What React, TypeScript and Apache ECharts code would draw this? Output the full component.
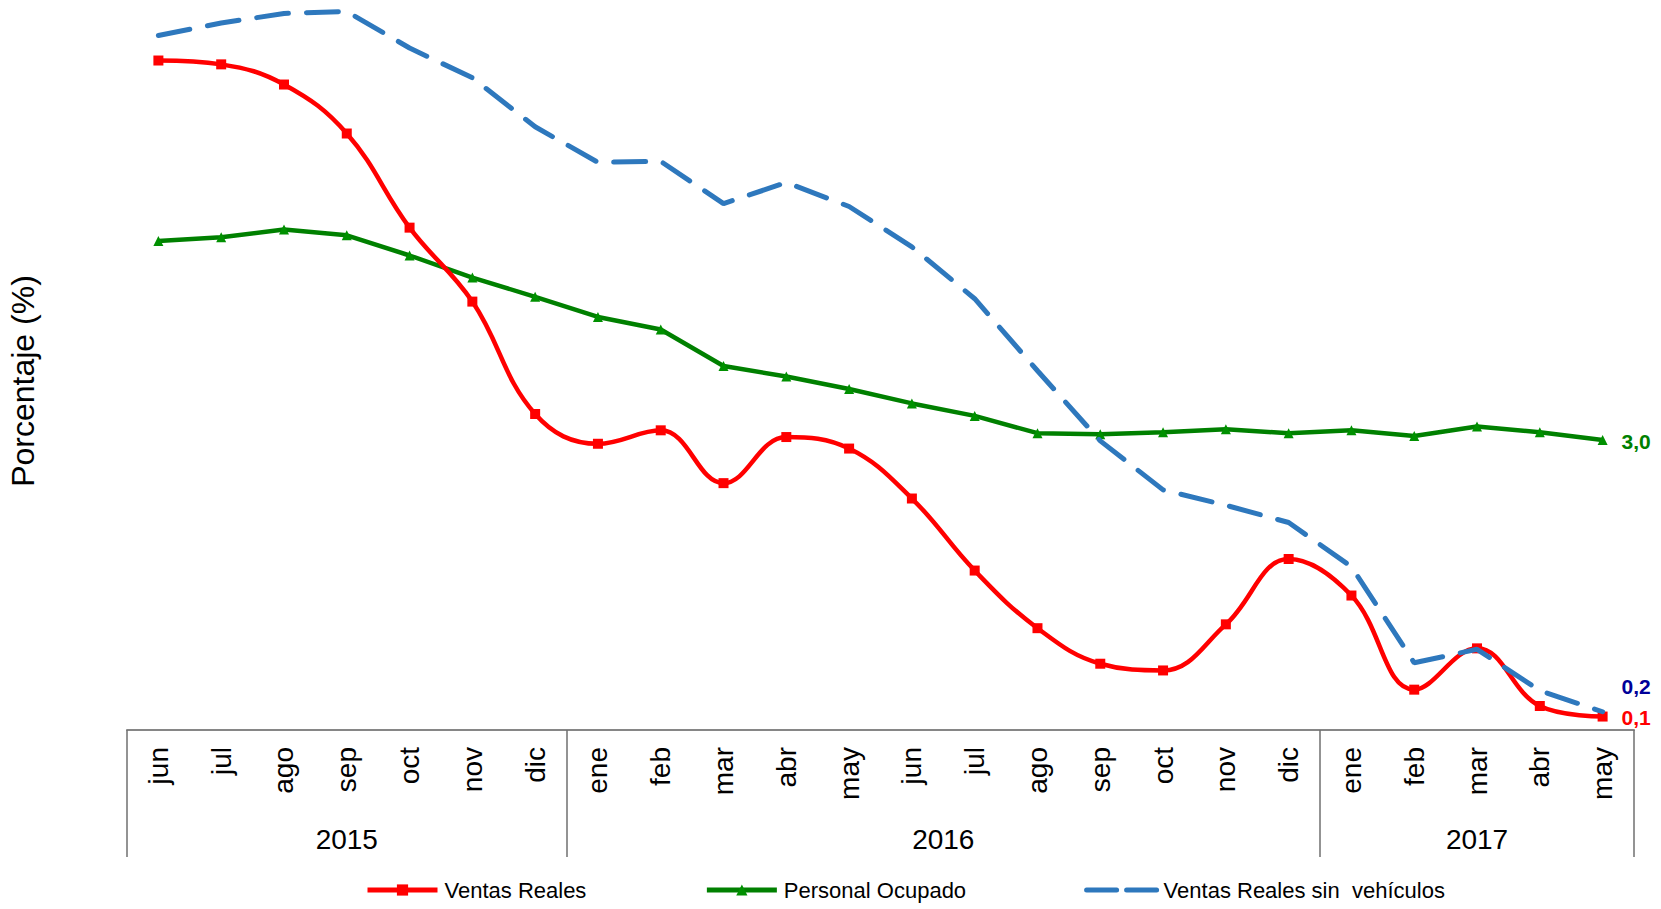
import React, { useEffect, useRef } from "react";
import * as echarts from "echarts";

const months = ["jun","jul","ago","sep","oct","nov","dic","ene","feb","mar","abr","may","jun","jul","ago","sep","oct","nov","dic","ene","feb","mar","abr","may"];
const years = ["2015", "2016", "2017"];
const yearMonthCounts = [7, 12, 5];

const ventasReales = [6.97,6.93,6.72,6.21,5.23,4.46,3.29,2.98,3.12,2.57,3.05,2.93,2.41,1.66,1.06,0.69,0.62,1.10,1.78,1.40,0.42,0.85,0.25,0.14];
const personalOcupado = [5.09,5.13,5.21,5.15,4.94,4.71,4.51,4.30,4.17,3.79,3.68,3.55,3.40,3.27,3.09,3.08,3.10,3.13,3.09,3.12,3.06,3.16,3.10,3.02];
const ventasSinVehiculos = [7.23,7.36,7.46,7.48,7.10,6.79,6.28,5.91,5.92,5.48,5.70,5.45,5.03,4.49,3.74,3.01,2.50,2.34,2.16,1.70,0.70,0.84,0.41,0.19];

const seriesNames = ["Ventas Reales", "Personal Ocupado", "Ventas Reales sin  vehículos"];

const FONT = "'Liberation Sans', Arial, sans-serif";

function fmt(v: number) {
  return v.toFixed(1).replace(".", ",");
}

function endLabel(color: string, offset: [number, number]) {
  return {
    show: true,
    distance: 19,
    offset,
    formatter: (p: any) => fmt(Array.isArray(p.value) ? p.value[1] : p.value),
    color,
    fontWeight: "bold",
    fontSize: 21,
    fontFamily: FONT,
  };
}

export default function App() {
  const ref = useRef<HTMLDivElement>(null);

  useEffect(() => {
    if (!ref.current) return;
    const chart = echarts.init(ref.current, undefined, { renderer: "svg" });

    const boundaries: number[] = [0];
    yearMonthCounts.forEach((c) => boundaries.push(boundaries[boundaries.length - 1] + c));
    const mids = yearMonthCounts.map((c, i) => boundaries[i] + c / 2);

    chart.setOption({
      animation: false,
      backgroundColor: "#ffffff",
      textStyle: { fontFamily: FONT },
      grid: { left: 127, right: 27, top: 0, bottom: 179, containLabel: false },
      legend: {
        left: 360,
        top: 874,
        itemWidth: 70,
        itemHeight: 14,
        itemGap: 118,
        lineStyle: { width: 5 },
        textStyle: { fontSize: 22, color: "#000", fontFamily: FONT, padding: [0, 0, 0, 2] },
        data: [
          seriesNames[0],
          seriesNames[1],
          { name: seriesNames[2], itemStyle: { opacity: 0 }, lineStyle: { type: [30, 10], width: 5 } },
        ],
      },
      xAxis: [
        {
          type: "category",
          data: months,
          boundaryGap: true,
          axisLine: { show: true, lineStyle: { color: "#868686", width: 2 } },
          axisTick: { show: false },
          axisLabel: {
            rotate: 90,
            fontSize: 28,
            color: "#000",
            margin: 17,
            interval: 0,
            fontFamily: FONT,
          },
          splitLine: { show: false },
        },
        {
          type: "value",
          position: "bottom",
          min: 0,
          max: months.length,
          axisLine: { show: false },
          splitLine: { show: false },
          axisTick: {
            show: true,
            customValues: boundaries,
            length: 127,
            inside: false,
            lineStyle: { color: "#6f6f6f", width: 1.5 },
          },
          axisLabel: {
            show: true,
            customValues: mids,
            formatter: (v: number) => {
              const idx = mids.indexOf(v);
              return idx >= 0 ? years[idx] : "";
            },
            fontSize: 28,
            color: "#000",
            margin: 95,
            fontFamily: FONT,
          },
        },
      ],
      yAxis: {
        type: "value",
        min: 0,
        max: 7.6,
        show: false,
        splitLine: { show: false },
      },
      graphic: [
        {
          type: "text",
          x: 23,
          y: 381,
          rotation: Math.PI / 2,
          style: {
            text: "Porcentaje (%)",
            fontSize: 32,
            fontFamily: FONT,
            fill: "#000",
            textAlign: "center",
            textVerticalAlign: "middle",
          },
        },
      ],
      series: [
        {
          name: seriesNames[0],
          type: "line",
          xAxisIndex: 0,
          data: ventasReales,
          smooth: 0.4,
          symbol: "rect",
          symbolSize: 10,
          showAllSymbol: true,
          itemStyle: { color: "#FF0000" },
          lineStyle: { color: "#FF0000", width: 4.5 },
          endLabel: endLabel("#FF0000", [0, 1]),
          z: 3,
        },
        {
          name: seriesNames[1],
          type: "line",
          xAxisIndex: 0,
          data: personalOcupado,
          symbol: "triangle",
          symbolSize: 10,
          showAllSymbol: true,
          itemStyle: { color: "#009000" },
          lineStyle: { color: "#008000", width: 4.5 },
          endLabel: endLabel("#008000", [0, 2]),
          z: 2,
        },
        {
          name: seriesNames[2],
          type: "line",
          xAxisIndex: 0,
          data: ventasSinVehiculos,
          symbol: "none",
          itemStyle: { color: "#2E78BD" },
          lineStyle: { color: "#2E78BD", width: 5, type: [32, 18], cap: "round" },
          endLabel: endLabel("#000099", [0, -25]),
          z: 4,
        },
      ],
    });

    return () => chart.dispose();
  }, []);

  return (
    <div
      ref={ref}
      style={{ position: "absolute", left: 0, top: 0, width: 1661, height: 909 }}
    />
  );
}
